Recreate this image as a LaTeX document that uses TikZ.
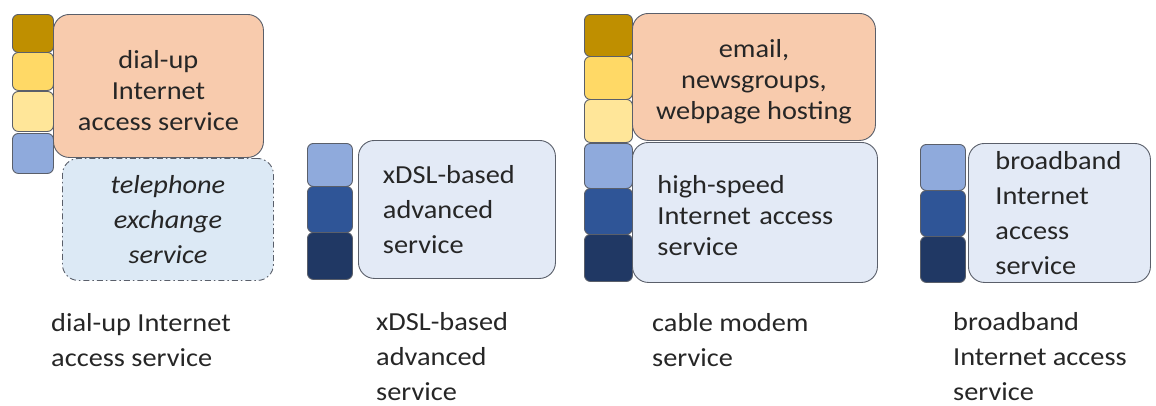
\documentclass[tikz,border=0pt]{standalone}
\usepackage{fontspec}
\setmainfont[FakeStretch=1.09]{Carlito}
\definecolor{gold}{HTML}{BF8F00}
\definecolor{yel}{HTML}{FFD966}
\definecolor{lyel}{HTML}{FFE699}
\definecolor{lblue}{HTML}{8FAADC}
\definecolor{mblue}{HTML}{2F5597}
\definecolor{dblue}{HTML}{203864}
\definecolor{peach}{HTML}{F8CBAD}
\definecolor{pale}{HTML}{E3EAF6}
\definecolor{dashfill}{HTML}{DCE9F5}
\definecolor{edge}{HTML}{5A5F6A}
\definecolor{txt}{HTML}{262626}
\begin{document}
\begin{tikzpicture}[x=1pt,y=-1pt,
  sq/.style={draw=edge, line width=0.9pt, rounded corners=6pt, anchor=north west, inner sep=0pt},
  bigbox/.style={draw=edge, line width=0.9pt, rounded corners=16pt, anchor=north west, inner sep=0pt, text=txt},
  tight/.style={font=\fontsize{26}{31}\selectfont},
  loose/.style={font=\fontsize{26}{35}\selectfont},
  lbl/.style={anchor=base west, align=left, inner sep=0pt, text=txt, font=\fontsize{26}{35}\selectfont}]
\useasboundingbox (0,0) rectangle (1156,405);
% panel 1
\node[sq, fill=gold, minimum width=41pt, minimum height=38pt] (a1) at (12,14) {};
\node[sq, fill=yel,  minimum width=41pt, minimum height=38pt] (a2) at (12,52) {};
\node[sq, fill=lyel, minimum width=41pt, minimum height=40pt] (a3) at (12,91) {};
\node[sq, fill=lblue,minimum width=41pt, minimum height=40pt] (a4) at (12,133) {};
\node[bigbox, fill=peach, minimum width=210pt, minimum height=143pt, align=center, tight, text height=89pt] (dial) at (53,14) {dial-up\\Internet\\access service};
\node[bigbox, draw=edge, dash pattern=on 6pt off 3pt on 1.5pt off 3pt, fill=dashfill, minimum width=211pt, minimum height=122pt, align=center, font=\fontsize{26}{35}\selectfont\itshape] (tel) at (62,158) {telephone\\exchange\\service};
% panel 2
\node[sq, fill=lblue, minimum width=45pt, minimum height=43pt] (b1) at (307,143) {};
\node[sq, fill=mblue, minimum width=45pt, minimum height=46pt] (b2) at (307,186) {};
\node[sq, fill=dblue, minimum width=45pt, minimum height=47pt] (b3) at (307,232) {};
\node[bigbox, fill=pale, minimum width=197pt, minimum height=138pt, text width=148pt, inner xsep=24pt, align=left, loose] (xdsl) at (358,140) {xDSL-based\\advanced\\service};
% panel 3
\node[sq, fill=gold, minimum width=48pt, minimum height=42pt] (c1) at (584,14) {};
\node[sq, fill=yel,  minimum width=48pt, minimum height=43pt] (c2) at (584,56) {};
\node[sq, fill=lyel, minimum width=48pt, minimum height=43pt] (c3) at (584,99) {};
\node[sq, fill=lblue,minimum width=48pt, minimum height=45pt] (c4) at (584,143) {};
\node[sq, fill=mblue,minimum width=48pt, minimum height=46pt] (c5) at (584,188) {};
\node[sq, fill=dblue,minimum width=48pt, minimum height=47pt] (c6) at (584,234) {};
\node[bigbox, fill=peach, minimum width=243pt, minimum height=127pt, align=center, tight, text height=89pt] (mail) at (632,13) {email,\\newsgroups,\\webpage hosting};
\node[bigbox, fill=pale, minimum width=245pt, minimum height=140pt, text width=195pt, inner xsep=25pt, align=left, tight, text depth=56pt] (hs) at (632,142) {high-speed\\Internet access\\service};
% panel 4
\node[sq, fill=lblue, minimum width=45pt, minimum height=46pt] (d1) at (920,144) {};
\node[sq, fill=mblue, minimum width=45pt, minimum height=46pt] (d2) at (920,190) {};
\node[sq, fill=dblue, minimum width=45pt, minimum height=46pt] (d3) at (920,236) {};
\node[bigbox, fill=pale, minimum width=182pt, minimum height=139pt, text width=128pt, inner xsep=27pt, align=left, loose] (bb) at (968,143) {broadband\\Internet\\access\\service};
% labels
\node[lbl] (l1) at (51,366) {dial-up Internet\\access service};
\node[lbl] (l2) at (376,400) {xDSL-based\\advanced\\service};
\node[lbl] (l3) at (652,366) {cable modem\\service};
\node[lbl] (l4) at (953,400) {broadband\\Internet access\\service};
\end{tikzpicture}
\end{document}
